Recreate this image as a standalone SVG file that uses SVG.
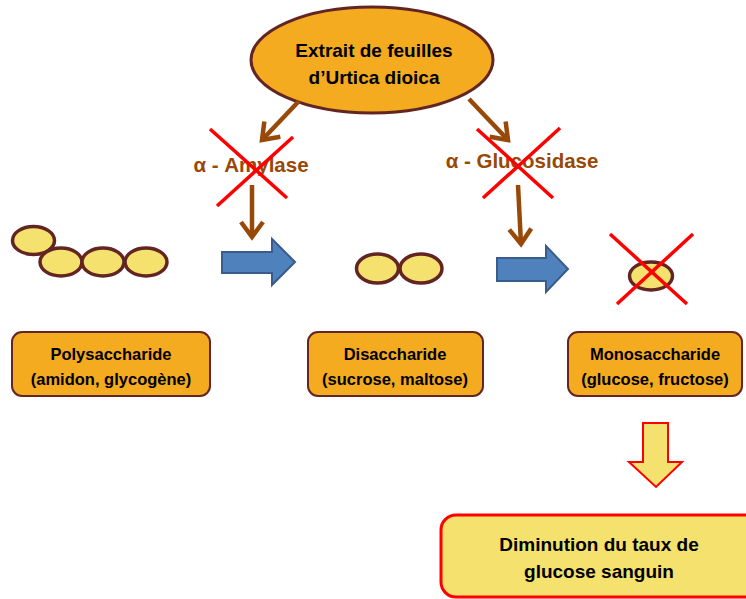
<svg xmlns="http://www.w3.org/2000/svg" width="746" height="599" viewBox="0 0 746 599">
<style>
.t{font-family:"Liberation Sans",Arial,sans-serif;font-weight:bold;text-anchor:middle;fill:#000}
.enz{font-family:"Liberation Sans",Arial,sans-serif;font-weight:bold;text-anchor:middle;fill:#984807;font-size:20.5px}
.sug{fill:#f5e16d;stroke:#632523;stroke-width:3.5}
.box{fill:#f5ab1f;stroke:#632523;stroke-width:2}
.brown{stroke:#984807;stroke-width:4.5;fill:none}
.cross{stroke:#ff0000;stroke-width:3.5;fill:none}
.blue{fill:#4f81bd;stroke:#385d8a;stroke-width:2}
</style>
<defs>
<marker id="ah" markerUnits="userSpaceOnUse" markerWidth="32" markerHeight="32" refX="0" refY="0" viewBox="-18 -16 22 32" orient="auto">
<path d="M -15 -11 L 0 0 L -15 11" stroke="#984807" stroke-width="4.5" fill="none"/>
</marker>
</defs>
<rect width="746" height="599" fill="#fff"/>
<g id="extrait">
<ellipse cx="372" cy="60" rx="121" ry="53" fill="#f5ab1f" stroke="#632523" stroke-width="3"/>
<text class="t" font-size="19" x="374" y="57">Extrait de feuilles</text>
<text class="t" font-size="19" x="374" y="84">d’Urtica dioica</text>
</g>
<g id="connectors">
<line class="brown" x1="299" y1="101" x2="262" y2="140" marker-end="url(#ah)"/>
<line class="brown" x1="469" y1="99" x2="508" y2="140" marker-end="url(#ah)"/>
<line class="brown" x1="252" y1="185" x2="252" y2="237" marker-end="url(#ah)"/>
<line class="brown" x1="518" y1="185" x2="521" y2="244" marker-end="url(#ah)"/>
<path class="blue" d="M222 252 H272 V239 L295 262 L272 285 V273 H222 Z"/>
<path class="blue" d="M497 258 H546 V246 L568 269 L546 292 V281 H497 Z"/>
<path d="M643 423 H668 V462 H682 L656 487 L629 462 H643 Z" fill="#f5e16d" stroke="#ff0000" stroke-width="2"/>
</g>
<g id="amylase">
<text class="enz" x="251" y="172">α - Amylase</text>
<line class="cross" x1="210" y1="129" x2="287" y2="198"/>
<line class="cross" x1="293" y1="137" x2="217" y2="206"/>
</g>
<g id="glucosidase">
<text class="enz" x="522" y="168">α - Glucosidase</text>
<line class="cross" x1="477" y1="129" x2="553" y2="198"/>
<line class="cross" x1="560" y1="128" x2="483" y2="198"/>
</g>
<g id="poly-shape">
<ellipse class="sug" cx="33.5" cy="240.5" rx="21" ry="14"/>
<ellipse class="sug" cx="61" cy="262" rx="21" ry="14"/>
<ellipse class="sug" cx="103" cy="262" rx="21" ry="14"/>
<ellipse class="sug" cx="146" cy="262" rx="21" ry="14"/>
</g>
<g id="di-shape">
<ellipse class="sug" cx="377.5" cy="268.5" rx="21" ry="14.5"/>
<ellipse class="sug" cx="421" cy="268.5" rx="21" ry="14.5"/>
</g>
<g id="mono-shape">
<ellipse class="sug" cx="651" cy="276" rx="21.5" ry="14"/>
<line class="cross" x1="610" y1="234" x2="687" y2="304"/>
<line class="cross" x1="693" y1="234" x2="617" y2="304"/>
</g>
<g id="polysaccharide">
<rect class="box" x="12" y="332" width="198" height="64" rx="10"/>
<text class="t" font-size="16.5" x="111" y="360">Polysaccharide</text>
<text class="t" font-size="16.5" x="111" y="385">(amidon, glycogène)</text>
</g>
<g id="disaccharide">
<rect class="box" x="308" y="332" width="175" height="64" rx="10"/>
<text class="t" font-size="16.5" x="395" y="360">Disaccharide</text>
<text class="t" font-size="16.5" x="395" y="385">(sucrose, maltose)</text>
</g>
<g id="monosaccharide">
<rect class="box" x="568" y="332" width="174" height="64" rx="10"/>
<text class="t" font-size="16.5" x="655" y="360">Monosaccharide</text>
<text class="t" font-size="16.5" x="655" y="385">(glucose, fructose)</text>
</g>
<g id="diminution">
<rect x="441" y="515" width="320" height="82" rx="15" fill="#f5e16d" stroke="#ff0000" stroke-width="3"/>
<text class="t" font-size="19" x="599" y="551">Diminution du taux de</text>
<text class="t" font-size="19" x="599" y="578">glucose sanguin</text>
</g>
</svg>
